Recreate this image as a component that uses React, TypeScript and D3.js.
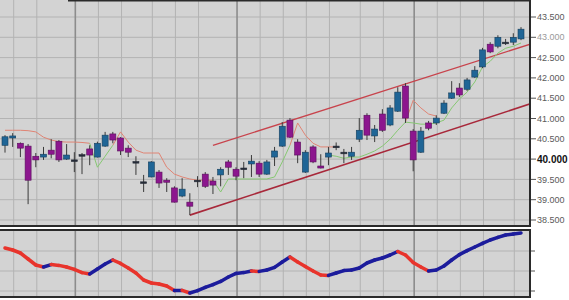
import React from 'react';
import * as d3 from 'd3';

const openP = [40.34,40.52,40.39,40.32,40.07,40.05,40.22,40.44,40.00,39.98,40.11,40.25,40.05,40.32,40.62,40.52,40.27,39.94,39.44,39.56,39.68,39.48,39.29,39.09,38.94,39.48,39.63,39.46,39.61,39.93,39.75,39.78,39.88,39.90,39.63,40.05,40.32,40.96,40.42,39.68,40.30,39.83,40.05,40.32,40.17,40.07,40.49,41.08,40.57,41.11,40.84,41.18,41.80,40.69,40.17,40.89,40.89,41.13,41.50,41.75,41.72,42.02,42.27,42.83,42.78,42.88,42.88,42.96];
const highP = [40.59,40.64,40.41,40.37,40.15,40.30,40.49,40.47,40.37,40.17,40.15,40.34,40.43,40.67,40.67,40.54,40.34,40.07,39.61,39.95,39.73,39.53,39.33,39.53,39.16,39.58,39.68,39.56,39.80,39.98,39.80,39.93,40.10,39.95,39.98,40.30,40.91,41.01,40.49,40.22,40.34,40.12,40.30,40.41,40.25,40.30,41.01,41.13,40.84,41.23,41.33,41.77,41.87,40.74,40.79,40.94,41.08,41.45,41.92,41.87,42.00,42.29,42.74,42.88,43.05,42.96,43.10,43.25];
const lowP = [40.16,40.30,40.05,38.89,39.80,39.98,40.02,39.93,39.98,39.68,39.63,39.85,40.04,40.30,40.39,40.10,40.05,39.61,39.19,39.55,39.29,39.19,38.93,39.06,38.62,39.31,39.29,39.14,39.33,39.61,39.48,39.53,39.56,39.56,39.61,39.83,40.30,40.52,39.90,39.66,39.90,39.77,39.85,40.22,39.90,39.98,40.42,40.47,40.42,40.67,40.81,41.16,40.89,39.70,40.15,40.71,40.84,41.11,41.48,41.53,41.68,42.00,42.24,42.61,42.73,42.81,42.81,42.93];
const closeP = [40.55,40.57,40.27,39.48,39.98,40.12,40.12,39.98,40.10,39.97,40.11,40.10,40.39,40.59,40.47,40.20,40.17,39.94,39.44,39.93,39.41,39.43,38.94,39.26,38.84,39.48,39.33,39.36,39.75,39.80,39.58,39.78,39.95,39.63,39.93,40.20,40.81,40.54,40.10,40.17,39.93,39.78,40.15,40.32,40.17,40.17,40.71,40.59,40.74,40.71,41.26,41.65,41.01,39.98,40.69,40.76,41.01,41.38,41.63,41.58,41.95,42.19,42.69,42.64,43.00,42.88,43.00,43.20];

const redStop: (number | null)[] = [40.71,40.71,40.71,40.70,40.67,40.54,40.47,40.43,40.42,40.42,40.41,40.39,null,null,40.34,40.67,40.42,40.22,40.15,40.15,40.15,39.80,39.63,39.56,39.51,39.48,39.48,39.48,null,null,null,null,null,null,null,null,null,40.34,40.89,40.59,40.39,40.30,40.30,40.30,null,null,null,null,null,null,null,null,40.91,41.45,41.26,41.11,41.06,null,null,null,null,null,null,null,null,null,null,null];
const greenStop: (number | null)[] = [null,null,null,null,null,null,null,null,null,null,null,40.39,39.80,40.07,40.34,null,null,null,null,null,null,null,null,null,null,null,null,39.48,39.19,39.51,39.51,39.51,39.51,39.51,39.51,39.56,39.93,40.34,null,null,null,null,40.10,40.07,40.02,40.05,40.05,40.12,40.20,40.32,40.49,40.71,40.91,40.89,40.86,40.86,40.89,40.96,41.26,41.48,41.65,41.90,42.27,42.41,42.61,42.73,42.78,42.86];

const oscillator = [57.5,52.5,45,30,15,10,16,14,10,4,-4,-7.5,5,17.5,27.5,19,7.5,-5,-22.5,-30,-32.5,-37.5,-49,-48.5,-55,-49,-41,-34,-26,-15,-6,-4,0,-1,2.5,9,22.5,35,22.5,11,0,-10,-11,-5,1,2.5,7.5,20,27.5,32.5,40,48.75,40,21,10,0,2.5,12.5,27.5,41,51,60,69,77.5,84,90,92.5,95];

const priceTicks = [38.5, 39, 39.5, 40, 40.5, 41, 41.5, 42, 42.5, 43, 43.5];
const oscTicks = [-50, 0, 50];
const gridIdx = [1, 4, 9, 12, 15, 19, 22, 25, 30, 33, 36, 39, 42, 46, 49, 53, 56, 59, 62, 66];
const majorGridIdx = [9, 30, 53];
const upperChannel: [number, number][] = [[27, 40.34], [68.2, 42.83]];
const lowerChannel: [number, number][] = [[24, 38.62], [68.2, 41.36]];

export default function App() {
  const W = 569, H = 300;
  const R = 530;
  const mainTop = 0, mainBot = 226;
  const lowTop = 230, lowBot = 297;
  const x = d3.scaleLinear().domain([0, 67]).range([5, 521]);
  const y = d3.scaleLinear().domain([38.5, 43.5]).range([220, 17]);
  const yo = d3.scaleLinear().domain([-65, 102.5]).range([297, 230]);
  const fmt = d3.format('.3f');
  const bw = 6;

  const stopLine = d3.line<number | null>()
    .defined(d => d != null)
    .x((_, i) => x(i))
    .y(d => y(d as number));
  const chanLine = d3.line<[number, number]>().x(d => x(d[0])).y(d => y(d[1]));

  const candles = openP.map((o, i) => {
    const c = closeP[i];
    const doji = Math.abs(c - o) < 0.03;
    const up = c >= o;
    const fill = doji ? '#262c38' : up ? '#1f6596' : '#8c168e';
    const stroke = doji ? '#262c38' : up ? '#173f5c' : '#5a0f5c';
    const top = y(Math.max(o, c));
    const h = Math.max(1.6, Math.abs(y(o) - y(c)));
    return { i, fill, stroke, top, h };
  });

  return (
    <svg width={W} height={H} style={{ position: 'absolute', left: 0, top: 0, background: '#fff' }}
      fontFamily="'Liberation Sans', Arial, sans-serif">
      <defs>
        <clipPath id="mainClip"><rect x={0} y={mainTop} width={R} height={mainBot - mainTop} /></clipPath>
        <clipPath id="lowClip"><rect x={0} y={lowTop} width={R} height={lowBot - lowTop} /></clipPath>
      </defs>
      {/* main panel */}
      <rect x={0} y={mainTop} width={R} height={mainBot - mainTop} fill="#d3d3d3" />
      {priceTicks.map(t => (
        <line key={'h' + t} x1={0} x2={R} y1={y(t)} y2={y(t)} stroke="#b3b3b3" strokeWidth={1} />
      ))}
      {gridIdx.map(g => {
        const major = majorGridIdx.includes(g);
        return <line key={'v' + g} x1={x(g) + 1} x2={x(g) + 1} y1={mainTop} y2={mainBot}
          stroke={major ? '#8c8c8c' : '#b3b3b3'} strokeWidth={major ? 1.6 : 1} />;
      })}
      <g clipPath="url(#mainClip)">
        <path d={chanLine(upperChannel) || ''} fill="none" stroke="#c8434c" strokeWidth={1.3} />
        <path d={chanLine(lowerChannel) || ''} fill="none" stroke="#a8283a" strokeWidth={1.6} />
        <path d={stopLine(redStop) || ''} fill="none" stroke="#e08474" strokeWidth={1} />
        <path d={stopLine(greenStop) || ''} fill="none" stroke="#86c872" strokeWidth={1} />
        {candles.map(c => (
          <line key={'w' + c.i} x1={x(c.i)} x2={x(c.i)} y1={y(highP[c.i])} y2={y(lowP[c.i])}
            stroke="#3a3a3a" strokeWidth={1} />
        ))}
        {candles.map(c => (
          <rect key={'b' + c.i} x={x(c.i) - bw / 2} y={c.top} width={bw} height={c.h}
            fill={c.fill} stroke={c.stroke} strokeWidth={0.6} />
        ))}
      </g>
      <line x1={68} x2={R + 1} y1={0.75} y2={0.75} stroke="#2a2a2a" strokeWidth={1.5} />
      <line x1={0} x2={R + 1} y1={mainBot} y2={mainBot} stroke="#2a2a2a" strokeWidth={2} />
      <line x1={R} x2={R} y1={0} y2={mainBot} stroke="#2a2a2a" strokeWidth={2} />
      {priceTicks.map(t => {
        const bold = t === 40;
        return (
          <g key={'t' + t}>
            <line x1={R + 1} x2={R + 6} y1={y(t)} y2={y(t)} stroke="#555" strokeWidth={1} />
            <text x={R + 7} y={y(t)} dy="0.35em" fontSize={bold ? 10 : 9}
              fontWeight={bold ? 'bold' : 'normal'} fill={bold ? '#111' : (t === 43 ? '#9a9a9a' : '#5a5a5a')}>
              {fmt(t)}
            </text>
          </g>
        );
      })}
      {/* lower panel */}
      <rect x={0} y={lowTop} width={R} height={lowBot - lowTop} fill="#d3d3d3" />
      {oscTicks.map(t => (
        <line key={'oh' + t} x1={0} x2={R} y1={yo(t)} y2={yo(t)} stroke="#b3b3b3" strokeWidth={1} />
      ))}
      {gridIdx.map(g => {
        const major = majorGridIdx.includes(g);
        return <line key={'ov' + g} x1={x(g) + 1} x2={x(g) + 1} y1={lowTop} y2={lowBot}
          stroke={major ? '#8c8c8c' : '#b3b3b3'} strokeWidth={major ? 1.6 : 1} />;
      })}
      <g clipPath="url(#lowClip)">
        {oscillator.slice(1).map((v, k) => {
          const prev = oscillator[k];
          return <line key={'o' + k} x1={x(k)} y1={yo(prev)} x2={x(k + 1)} y2={yo(v)}
            stroke={v >= prev ? '#1c1c9c' : '#e8342c'} strokeWidth={3.5} strokeLinecap="round" />;
        })}
      </g>
      <line x1={0} x2={R + 1} y1={lowTop} y2={lowTop} stroke="#2a2a2a" strokeWidth={2} />
      <line x1={0} x2={R + 1} y1={lowBot} y2={lowBot} stroke="#2a2a2a" strokeWidth={2} />
      <line x1={R} x2={R} y1={lowTop} y2={lowBot} stroke="#2a2a2a" strokeWidth={2} />
      {oscTicks.map(t => (
        <line key={'ot' + t} x1={R + 1} x2={R + 5} y1={yo(t)} y2={yo(t)} stroke="#555" strokeWidth={1} />
      ))}
    </svg>
  );
}
